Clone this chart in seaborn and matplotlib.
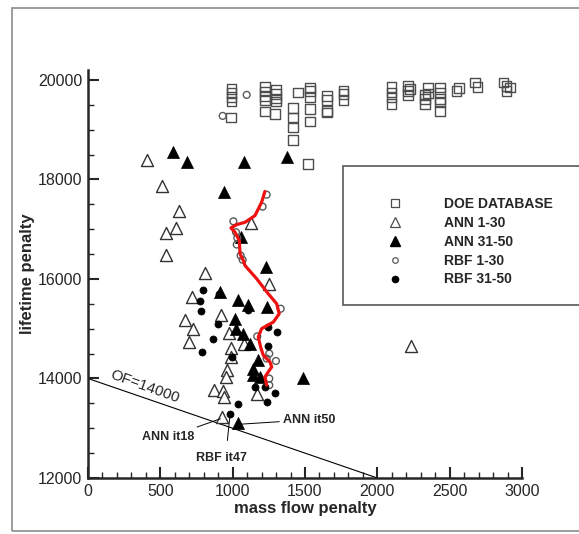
import matplotlib
matplotlib.use("Agg")
import matplotlib.pyplot as plt
import matplotlib.lines as mlines
from matplotlib.patches import Rectangle
from matplotlib.ticker import MultipleLocator
import seaborn as sns
import pandas as pd

# ---------------- data ----------------
doe_x = [993, 993, 993, 993, 988,
         1223, 1223, 1223, 1223, 1223,
         1300, 1300, 1300, 1300, 1293,
         1419, 1419, 1419, 1419,
         1453, 1534, 1534, 1534, 1534, 1534,
         1521,
         1650, 1650, 1650, 1650,
         1765, 1765, 1765,
         2099, 2099, 2099, 2099,
         2214, 2214, 2214, 2226,
         2329, 2329, 2329, 2352, 2352,
         2433, 2433, 2433, 2433, 2433,
         2548, 2564,
         2675, 2693,
         2871, 2894, 2894, 2917]
doe_y = [19814, 19740, 19660, 19565, 19244,
         19860, 19766, 19680, 19593, 19364,
         19800, 19713, 19624, 19565, 19312,
         19433, 19244, 19043, 18797,
         19745, 19834, 19780, 19660, 19413, 19164,
         18310,
         19680, 19593, 19378, 19344,
         19780, 19713, 19593,
         19860, 19745, 19645, 19513,
         19880, 19780, 19700, 19814,
         19700, 19613, 19513, 19847, 19726,
         19847, 19745, 19613, 19546, 19378,
         19780, 19834,
         19946, 19860,
         19946, 19880, 19780, 19847]

ann1_x = [405, 514, 631, 608, 537, 539, 1127,
          809, 721, 670, 723, 700, 917, 975, 988, 1078, 986, 958, 954,
          873, 935, 942, 1253, 1166, 924, 2230]
ann1_y = [18396, 17875, 17373, 17019, 16918, 16485, 17127,
          16116, 15635, 15168, 15000, 14733, 15268, 14920, 14620, 14700, 14432, 14165, 14031,
          13765, 13751, 13631, 15904, 13698, 13229, 14650]

ann2_x = [585, 686, 1078, 1373, 940, 1060, 1230,
          912, 1039, 1108, 1235, 1016, 1023, 1069, 1120, 1177, 1143, 1143, 1189, 1488, 1040]
ann2_y = [18542, 18342, 18342, 18442, 17740, 16840, 16250,
          15741, 15569, 15469, 15435, 15202, 15000, 14900, 14700, 14380, 14199, 14065, 14031, 14010, 13100]

rbf1_x = [1097, 931, 1235, 1207, 1005, 1023, 1032, 1028, 1055, 1069,
          1332, 1170, 1253, 1299, 1235, 1253, 1253]
rbf1_y = [19700, 19278, 17694, 17453, 17159, 16939, 16826, 16692, 16471, 16385,
          15402, 14847, 14500, 14352, 14400, 13999, 13865]

rbf2_x = [797, 774, 779, 901, 862, 786, 993, 1104, 905, 1246, 1304, 1246,
          1154, 1223, 1293, 1039, 1239, 981]
rbf2_y = [15783, 15555, 15348, 15101, 14801, 14533, 14432, 15368, 15700, 15034, 14934, 14647,
          13831, 13831, 13710, 13497, 13530, 13283]

path_x = [1223, 1200, 1154, 1085, 1028, 988, 1016, 1046, 1051, 1074, 1085,
          1166, 1246, 1304, 1322, 1281, 1200, 1177, 1193, 1212, 1258, 1270, 1246, 1223, 1235]
path_y = [17760, 17540, 17273, 17139, 17093, 17026, 16939, 16772, 16505, 16371, 16271,
          16004, 15703, 15503, 15302, 15134, 15001, 14834, 14633, 14466, 14332, 14232, 14131, 14031, 13865]

of_x = [0, 2000]
of_y = [14000, 12000]

legend_labels = ["DOE DATABASE", "ANN 1-30", "ANN 31-50", "RBF 1-30", "RBF 31-50"]
x_ticks = [0, 500, 1000, 1500, 2000, 2500, 3000]
y_ticks = [12000, 14000, 16000, 18000, 20000]

# ---------------- figure ----------------
sns.set_style("ticks")
plt.rcParams['font.family'] = ['Liberation Sans', 'DejaVu Sans']

W, H = 579, 534
fig = plt.figure(figsize=(W / 100, H / 100), dpi=100)
ax = fig.add_axes([88 / W, 56 / H, (522 - 88) / W, (478 - 70) / H])

# outer frame
fig.patches.append(Rectangle((12 / W, (H - 531) / H), 0.99, (531 - 8) / H,
                             transform=fig.transFigure, fill=False,
                             edgecolor="0.55", linewidth=1.2, clip_on=False))

# OF line
sns.lineplot(x=of_x, y=of_y, ax=ax, color="black", linewidth=0.8, sort=False,
             estimator=None, errorbar=None)

sns.scatterplot(x=doe_x, y=doe_y, ax=ax, marker="s", s=48,
                facecolor="none", edgecolor="0.3", linewidth=1.0, zorder=3)
sns.scatterplot(x=ann1_x, y=ann1_y, ax=ax, marker="^", s=75,
                facecolor="white", edgecolor="0.2", linewidth=1.0, zorder=3)
sns.scatterplot(x=ann2_x, y=ann2_y, ax=ax, marker="^", s=75,
                color="black", edgecolor="black", linewidth=0.5, zorder=4)
sns.scatterplot(x=rbf1_x, y=rbf1_y, ax=ax, marker="o", s=24,
                facecolor="none", edgecolor="0.35", linewidth=1.0, zorder=4)
sns.scatterplot(x=rbf2_x, y=rbf2_y, ax=ax, marker="o", s=26,
                color="black", edgecolor="black", linewidth=0.5, zorder=4)

sns.lineplot(x=path_x, y=path_y, ax=ax, color="#ee1111", linewidth=2.3, sort=False,
             estimator=None, errorbar=None, zorder=5)

ax.set_xlim(0, 3000)
ax.set_ylim(12000, 20200)
ax.set_xticks(x_ticks)
ax.set_yticks(y_ticks)
ax.xaxis.set_minor_locator(MultipleLocator(100))
ax.yaxis.set_minor_locator(MultipleLocator(500))
ax.tick_params(which="major", direction="in", length=8, width=1.5, labelsize=11.5, pad=4)
ax.tick_params(which="minor", direction="in", length=4, width=1.0)
for s in ["top", "right"]:
    ax.spines[s].set_visible(False)
for s in ["left", "bottom"]:
    ax.spines[s].set_linewidth(1.8)

ax.set_xlabel("mass flow penalty", fontsize=12, fontweight="bold", labelpad=2)
ax.set_ylabel("lifetime penalty", fontsize=12, fontweight="bold", labelpad=2)

# OF label
ax.text(395, 13840, "OF=14000", rotation=-20, fontsize=11,
        ha="center", va="center", rotation_mode="anchor")

# annotations
ax.annotate("ANN it50", xy=(1062, 13083), xytext=(1345, 13170),
            fontsize=9, fontweight="bold", ha="left", va="center",
            arrowprops=dict(arrowstyle="-", color="black", lw=0.7, shrinkA=0, shrinkB=0))
ax.annotate("ANN it18", xy=(915, 13190), xytext=(555, 12820),
            fontsize=9, fontweight="bold", ha="center", va="center",
            arrowprops=dict(arrowstyle="-", color="black", lw=0.7, shrinkA=2, shrinkB=0))
ax.annotate("RBF it47", xy=(981, 13250), xytext=(920, 12400),
            fontsize=9, fontweight="bold", ha="center", va="center",
            arrowprops=dict(arrowstyle="-", color="black", lw=0.7, shrinkA=6, shrinkB=0,
                            relpos=(0.6, 1.0)))

# legend box
fig.patches.append(Rectangle((343 / W, (H - 305) / H), 0.6, (305 - 166) / H,
                             transform=fig.transFigure, fill=True, facecolor="white",
                             edgecolor="0.35", linewidth=1.2, clip_on=False, zorder=1))
handles = [
    mlines.Line2D([], [], marker="s", ls="", mfc="none", mec="0.3", ms=6, mew=0.9),
    mlines.Line2D([], [], marker="^", ls="", mfc="none", mec="0.3", ms=6.5, mew=0.9),
    mlines.Line2D([], [], marker="^", ls="", mfc="black", mec="black", ms=6.5),
    mlines.Line2D([], [], marker="o", ls="", mfc="none", mec="0.35", ms=4, mew=0.9),
    mlines.Line2D([], [], marker="o", ls="", mfc="black", mec="black", ms=4.5),
]
leg = fig.legend(handles=handles, labels=legend_labels, loc="upper left",
                 bbox_to_anchor=(381 / W, (H - 197) / H), frameon=False,
                 prop={"weight": "bold", "size": 10}, handlelength=2,
                 handletextpad=2.5, labelspacing=0.35, borderpad=0, borderaxespad=0)

fig.savefig("out.png", dpi=100)
